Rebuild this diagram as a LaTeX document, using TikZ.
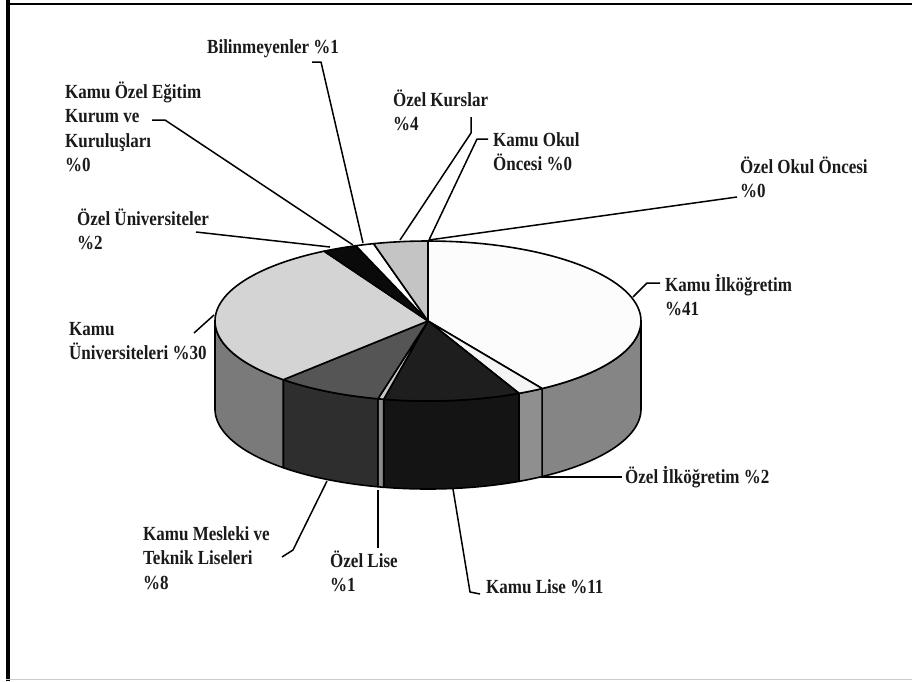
\documentclass[tikz,border=0pt]{standalone}
\usepackage{fontspec}
\setmainfont{Liberation Serif}[FakeStretch=0.85]
\newcommand\pcx{428}
\newcommand\pcy{321}
\newcommand\prx{213}
\newcommand\pry{80}
\newcommand\pdep{88}
\newcommand\lbltext[1]{\begin{tabular}[t]{@{}l@{}}#1\end{tabular}}
\newcommand\topslice[3]{%
  \filldraw[fill=#3, pieline] (\pcx,\pcy) -- plot[domain=#1:#2, samples=60] ({\pcx+\prx*sin(\x)},{\pcy-\pry*cos(\x)}) -- cycle;}
\newcommand\sideface[3]{%
  \filldraw[fill=#3, pieline] plot[domain=#1:#2, samples=40] ({\pcx+\prx*sin(\x)},{\pcy-\pry*cos(\x)})
    -- plot[domain=#2:#1, samples=40] ({\pcx+\prx*sin(\x)},{\pcy+\pdep-\pry*cos(\x)}) -- cycle;}
\definecolor{sideA}{HTML}{858585}
\definecolor{sideB}{HTML}{8F8F8F}
\definecolor{sideC}{HTML}{141414}
\definecolor{sideD}{HTML}{8A8A8A}
\definecolor{sideE}{HTML}{2E2E2E}
\definecolor{sideF}{HTML}{7A7A7A}
\definecolor{topA}{HTML}{FCFCFC}
\definecolor{topB}{HTML}{F4F4F4}
\definecolor{topC}{HTML}{1E1E1E}
\definecolor{topD}{HTML}{C8C8C8}
\definecolor{topE}{HTML}{555555}
\definecolor{topF}{HTML}{D4D4D4}
\definecolor{topG}{HTML}{0A0A0A}
\definecolor{topH}{HTML}{FFFFFF}
\definecolor{topI}{HTML}{C4C4C4}
\definecolor{txt}{HTML}{1A1A1A}
\begin{document}
\begin{tikzpicture}[x=1pt,y=-1pt,
  pieline/.style={draw=black, line width=1.6pt, line join=round},
  leader/.style={draw=black, line width=1.5pt, line join=round},
  lbl/.style={anchor=base west, inner sep=0pt, text=txt,
    font=\fontsize{20}{24.5}\selectfont\bfseries}]
\useasboundingbox (0,0) rectangle (912,681);
% frame
\fill[black] (6,2.5) rectangle (912,5);
\fill[black] (6,0) rectangle (9.5,681);
\fill[black!20] (6,678.5) rectangle (912,680);
% sides
\sideface{90}{147.6}{sideA}
\sideface{147.6}{154.7}{sideB}
\sideface{154.7}{192}{sideC}
\sideface{192}{193.6}{sideD}
\sideface{193.6}{222.8}{sideE}
\sideface{222.8}{270}{sideF}
% tops
\topslice{0}{147.6}{topA}
\topslice{147.6}{154.7}{topB}
\topslice{154.7}{192}{topC}
\topslice{192}{193.6}{topD}
\topslice{193.6}{222.8}{topE}
\topslice{222.8}{330.8}{topF}
\topslice{330.8}{340.2}{topG}
\topslice{340.2}{345.2}{topH}
\topslice{345.2}{360}{topI}
% labels
\node[lbl] (bil) at (207,53) {Bilinmeyenler \%1};
\node[lbl] (koe) at (65,98) {\lbltext{Kamu Özel Eğitim\\Kurum ve\\Kuruluşları\\\%0}};
\node[lbl] (okr) at (393,106) {\lbltext{Özel Kurslar\\\%4}};
\node[lbl] (kok) at (493,146) {\lbltext{Kamu Okul\\Öncesi \%0}};
\node[lbl] (ook) at (740,173) {\lbltext{Özel Okul Öncesi\\\%0}};
\node[lbl] (oun) at (77,225) {\lbltext{Özel Üniversiteler\\\%2}};
\node[lbl] (kun) at (69,335) {\lbltext{Kamu\\Üniversiteleri \%30}};
\node[lbl] (kil) at (665,291) {\lbltext{Kamu İlköğretim\\\%41}};
\node[lbl] (oil) at (625,483) {Özel İlköğretim \%2};
\node[lbl] (kml) at (143,540) {\lbltext{Kamu Mesleki ve\\Teknik Liseleri\\\%8}};
\node[lbl] (olis) at (330,567) {\lbltext{Özel Lise\\\%1}};
\node[lbl] (klis) at (486,593) {Kamu Lise \%11};
% leader coordinates
\coordinate (bilA) at (312,62); \coordinate (bilB) at (321,62); \coordinate (bilP) at (363,243);
\coordinate (koeA) at (152,120); \coordinate (koeB) at (165,120); \coordinate (koeP) at (353,245);
\coordinate (okrA) at (471,117); \coordinate (okrB) at (471,133); \coordinate (okrP) at (400,240);
\coordinate (kokA) at (488,139); \coordinate (kokB) at (477,139); \coordinate (kokP) at (429,240);
\coordinate (ookA) at (737,197); \coordinate (ookP) at (429,240);
\coordinate (ounA) at (196,232); \coordinate (ounP) at (330,247);
\coordinate (kunA) at (194,333); \coordinate (kunP) at (214,315);
\coordinate (kilA) at (660,283); \coordinate (kilB) at (647,283); \coordinate (kilP) at (633,297);
\coordinate (oilP) at (541,477); \coordinate (oilA) at (622,477);
\coordinate (klisP) at (453,489); \coordinate (klisB) at (470,592); \coordinate (klisA) at (480,594);
\coordinate (olisP) at (378,490); \coordinate (olisA) at (378,548);
\coordinate (kmlP) at (327,481); \coordinate (kmlB) at (293,550); \coordinate (kmlA) at (282,557);
% leaders
\draw[leader] (bilA) -- (bilB) -- (bilP);
\draw[leader] (koeA) -- (koeB) -- (koeP);
\draw[leader] (okrA) -- (okrB) -- (okrP);
\draw[leader] (kokA) -- (kokB) -- (kokP);
\draw[leader] (ookA) -- (ookP);
\draw[leader] (ounA) -- (ounP);
\draw[leader] (kunA) -- (kunP);
\draw[leader] (kilA) -- (kilB) -- (kilP);
\draw[leader] (oilP) -- (oilA);
\draw[leader] (klisP) -- (klisB) -- (klisA);
\draw[leader] (olisP) -- (olisA);
\draw[leader] (kmlP) -- (kmlB) -- (kmlA);
\end{tikzpicture}
\end{document}
